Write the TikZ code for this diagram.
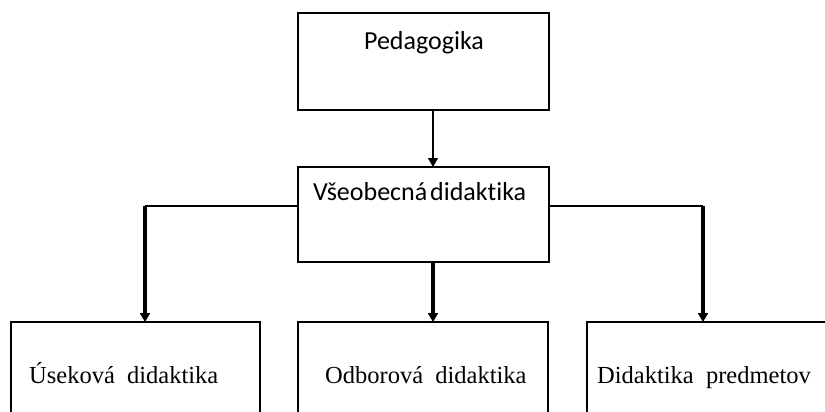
\documentclass[tikz,border=0pt]{standalone}
\usepackage{fontspec}
\setmainfont{Liberation Serif}
\newfontfamily\topfont[Ligatures={NoCommon}]{Carlito}
\usetikzlibrary{arrows.meta}
\tikzset{
  box/.style={draw=black, line width=1.2pt, fill=white},
  toptext/.style={font=\topfont\fontsize{26}{30}\selectfont, inner sep=0pt},
  bottext/.style={font=\fontsize{24.5}{28}\selectfont, inner sep=0pt},
  thinconn/.style={draw=black, line width=1.4pt},
  thickconn/.style={draw=black, line width=3.6pt},
  tip/.style={-{Triangle[width=10pt,length=9pt]}}
}
\begin{document}
\begin{tikzpicture}[x=1pt,y=-1pt]
\useasboundingbox (0,0) rectangle (825,412);
\clip (0,0) rectangle (825,412);
\fill[white] (0,0) rectangle (825,412);
% boxes
\draw[box] (298,13) rectangle (549,110);
\coordinate (pedb) at (433,110);
\draw[box] (298,167) rectangle (549,262);
\coordinate (vset) at (433,167);
\coordinate (vseb) at (433,262);
\coordinate (vsel) at (298,206);
\coordinate (vser) at (549,206);
\draw[box] (11,322) rectangle (260,430);
\draw[box] (298,322) rectangle (548,430);
\draw[box] (587,322) rectangle (840,430);
\draw[line width=2.4pt] (260,322) -- (260,412);
\draw[line width=2.4pt] (548,322) -- (548,412);
\draw[line width=2pt] (298,262) -- (549,262);
\coordinate (ut) at (145,322);
\coordinate (ot) at (433,322);
\coordinate (dt) at (703,322);
\coordinate (lc) at (145,206);
\coordinate (rc) at (703,206);
% texts
\node[toptext, anchor=base] (ped) at (424,50) {Pedagogika};
\node[toptext, anchor=base west] (vse) at (313,200) {Všeobecná\hspace{-3pt} didaktika};
\node[bottext, anchor=base west] (use) at (29,383) {Úseková\ \ didaktika};
\node[bottext, anchor=base west] (odb) at (325,383) {Odborová\ \ didaktika};
\node[bottext, anchor=base west] (did) at (597,383) {Didaktika\ \ predmetov};
% connectors
\draw[thinconn, tip] (pedb) -- (vset);
\draw[thinconn] (vsel) -- (lc);
\draw[thinconn] (vser) -- (rc);
\draw[thickconn, tip] (lc) -- (ut);
\draw[thickconn, tip] (rc) -- (dt);
\draw[thickconn, tip] (vseb) -- (ot);
\end{tikzpicture}
\end{document}
